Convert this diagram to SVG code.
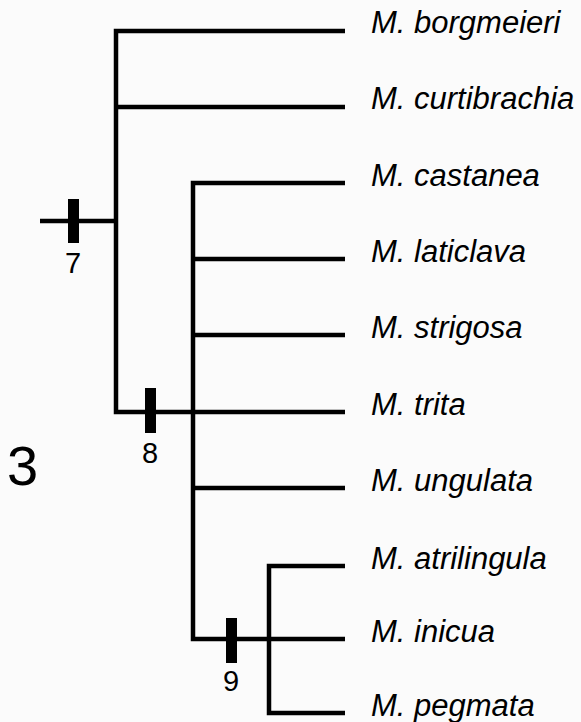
<svg xmlns="http://www.w3.org/2000/svg" width="581" height="722" viewBox="0 0 581 722">
<style>
.br{fill:none;stroke:#000;stroke-width:4.5;stroke-linejoin:miter;stroke-linecap:butt}
.tx{font-family:"Liberation Sans",Arial,sans-serif;font-style:italic;font-size:31px;fill:#000}
.num{font-family:"Liberation Sans",Arial,sans-serif;font-size:29px;fill:#000;text-anchor:middle}
.bar{fill:#000}
</style>
<rect width="581" height="722" fill="#fbfbfb"/>
<g id="connectors">
<path class="br" d="M345,31 H116 V412 H193"/>
<path class="br" d="M40,221 H116"/>
<path class="br" d="M116,107 H345"/>
<path class="br" d="M345,183 H193 V639 H269"/>
<path class="br" d="M193,259 H345 M193,335 H345 M193,412 H345 M193,488 H345"/>
<path class="br" d="M345,566 H269 V713 H345 M269,639 H345"/>
</g>
<g id="bar7"><rect class="bar" x="68" y="199" width="11" height="44"/><text class="num" x="73" y="273">7</text></g>
<g id="bar8"><rect class="bar" x="145" y="388" width="11" height="45"/><text class="num" x="150" y="463">8</text></g>
<g id="bar9"><rect class="bar" x="226" y="618" width="11" height="45"/><text class="num" x="231" y="691">9</text></g>
<g id="fig"><text x="7" y="485" font-family="Liberation Sans,Arial,sans-serif" font-size="56" fill="#000">3</text></g>
<g id="t1"><text class="tx" x="371" y="33">M. borgmeieri</text></g>
<g id="t2"><text class="tx" x="371" y="109">M. curtibrachia</text></g>
<g id="t3"><text class="tx" x="371" y="186">M. castanea</text></g>
<g id="t4"><text class="tx" x="371" y="262">M. laticlava</text></g>
<g id="t5"><text class="tx" x="371" y="338">M. strigosa</text></g>
<g id="t6"><text class="tx" x="371" y="415">M. trita</text></g>
<g id="t7"><text class="tx" x="371" y="491">M. ungulata</text></g>
<g id="t8"><text class="tx" x="371" y="569">M. atrilingula</text></g>
<g id="t9"><text class="tx" x="371" y="642">M. inicua</text></g>
<g id="t10"><text class="tx" x="371" y="716">M. pegmata</text></g>
</svg>
